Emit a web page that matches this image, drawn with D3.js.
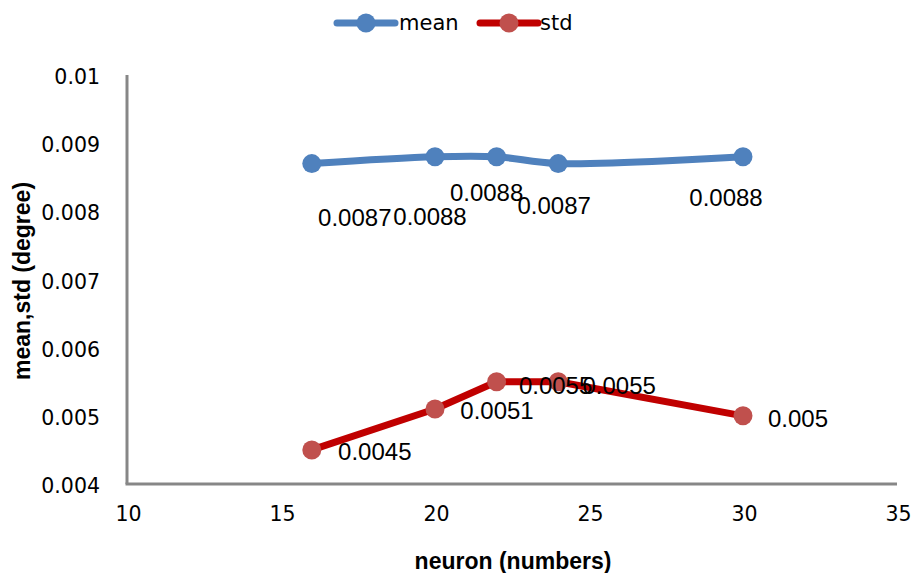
<!DOCTYPE html>
<html><head><meta charset="utf-8">
<script src="https://cdn.jsdelivr.net/npm/d3@7"></script>
<style>body{margin:0;background:#fff}</style>
</head><body>
<svg id="c" width="913" height="573"></svg>
<script>
const neurons = [16, 20, 22, 24, 30];
const meanVals = [0.0087, 0.0088, 0.0088, 0.0087, 0.0088];
const stdVals = [0.0045, 0.0051, 0.0055, 0.0055, 0.005];
const xTicks = [10, 15, 20, 25, 30, 35];
const yTicks = [0.004, 0.005, 0.006, 0.007, 0.008, 0.009, 0.01];
const seriesNames = ["mean", "std"];

// label placement offsets (pixels, relative to point) — layout only
const meanLabelOff = [[43, 54], [-5, 60], [-10, 36], [-4, 42], [-17, 41]];
const stdLabelOff = [[63, 2], [62, 2], [59, 4], [61, 4], [55, 3]];

const svg = d3.select("#c");
const x = d3.scaleLinear().domain([10, 35]).range([127, 897]);
const y = d3.scaleLinear().domain([0.004, 0.01]).range([484, 75]);

const axisColor = "#878787";
svg.append("line").attr("x1", x(10)).attr("x2", x(10)).attr("y1", y(0.01)).attr("y2", y(0.004))
  .attr("stroke", axisColor).attr("stroke-width", 3);
svg.append("line").attr("x1", x(10) - 1.5).attr("x2", x(35)).attr("y1", y(0.004)).attr("y2", y(0.004))
  .attr("stroke", axisColor).attr("stroke-width", 3);

const yAxis = svg.append("g").attr("transform", "translate(100,2)")
  .call(d3.axisLeft(y).tickValues(yTicks).tickSize(0).tickPadding(0).tickFormat(d => String(+d.toFixed(3))));
yAxis.select(".domain").remove();
yAxis.selectAll("text").attr("font-family", "DejaVu Sans").attr("font-size", 20.5).attr("fill", "#000");

const xAxis = svg.append("g").attr("transform", "translate(1,506)")
  .call(d3.axisBottom(x).tickValues(xTicks).tickSize(0).tickPadding(0));
xAxis.select(".domain").remove();
xAxis.selectAll("text").attr("font-family", "DejaVu Sans").attr("font-size", 20.5).attr("fill", "#000");

svg.append("text").attr("x", 513).attr("y", 569).attr("text-anchor", "middle")
  .attr("font-family", "Liberation Sans").attr("font-weight", "bold").attr("font-size", 23)
  .text("neuron (numbers)");
svg.append("text").attr("transform", "translate(30,281) rotate(-90)").attr("text-anchor", "middle")
  .attr("font-family", "Liberation Sans").attr("font-weight", "bold").attr("font-size", 23)
  .text("mean,std (degree)");

const series = [
  {name: seriesNames[0], vals: meanVals, stroke: "#4F81BD", fill: "#4F81BD", off: meanLabelOff, curve: d3.curveCatmullRom.alpha(0.5)},
  {name: seriesNames[1], vals: stdVals, stroke: "#C00000", fill: "#C0504D", off: stdLabelOff, curve: d3.curveLinear}
];

series.forEach(s => {
  const pts = neurons.map((n, i) => [n, s.vals[i]]);
  const line = d3.line().x(d => x(d[0])).y(d => y(d[1])).curve(s.curve);
  svg.append("path").attr("d", line(pts)).attr("fill", "none")
    .attr("stroke", s.stroke).attr("stroke-width", 7).attr("stroke-linejoin", "round");
  svg.selectAll(null).data(pts).enter().append("circle")
    .attr("cx", d => x(d[0])).attr("cy", d => y(d[1])).attr("r", 9.5).attr("fill", s.fill);
});
series.forEach(s => {
  const pts = neurons.map((n, i) => [n, s.vals[i]]);
  svg.selectAll(null).data(pts).enter().append("text")
    .attr("x", (d, i) => x(d[0]) + s.off[i][0]).attr("y", (d, i) => y(d[1]) + s.off[i][1])
    .attr("dy", "0.35em").attr("text-anchor", "middle")
    .attr("font-family", "Liberation Sans").attr("font-size", 24).attr("fill", "#000")
    .text(d => String(d[1]));
});

const leg = [{x0: 337, x1: 395, cx: 366, tx: 399}, {x0: 480, x1: 538, cx: 509, tx: 540}];
series.forEach((s, i) => {
  const L = leg[i];
  svg.append("line").attr("x1", L.x0).attr("x2", L.x1).attr("y1", 23).attr("y2", 23)
    .attr("stroke", s.stroke).attr("stroke-width", 7).attr("stroke-linecap", "round");
  svg.append("circle").attr("cx", L.cx).attr("cy", 23).attr("r", 9.5).attr("fill", s.fill);
  svg.append("text").attr("x", L.tx).attr("y", 23).attr("dy", "0.35em")
    .attr("font-family", "DejaVu Sans").attr("font-size", 21).attr("fill", "#000").text(s.name);
});
</script>
</body></html>
